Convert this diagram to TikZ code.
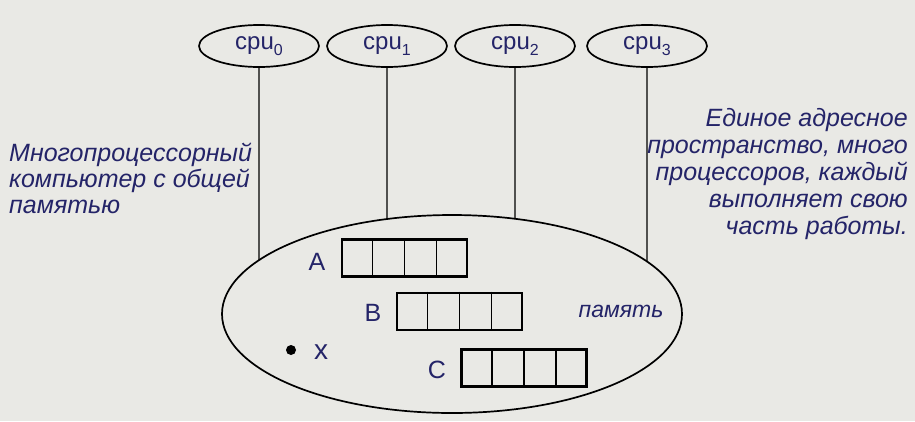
\documentclass[tikz,border=0pt]{standalone}
\usepackage{fontspec}
\setmainfont{Liberation Sans}
\usetikzlibrary{shapes.geometric,intersections,calc}
\definecolor{bg}{RGB}{233,233,229}
\definecolor{ink}{RGB}{36,36,104}
\newcommand{\cpusub}[1]{\raisebox{-6pt}{\fontsize{16}{16}\selectfont #1}}
\begin{document}
\begin{tikzpicture}[x=1pt,y=-1pt,
  cpu/.style={ellipse, draw, line width=1.7pt, minimum width=120pt, minimum height=42pt, inner sep=0pt, text=ink, font=\fontsize{24}{26}\selectfont},
  arr/.style={draw, line width=2.8pt, minimum width=125pt, minimum height=37pt, inner sep=0pt},
  cell/.style={line width=1.5pt},
  lbl/.style={text=ink, font=\fontsize{25}{26}\selectfont, inner sep=0pt},
  note/.style={text=ink, font=\fontsize{25}{26}\selectfont\itshape, inner sep=0pt},
  wire/.style={line width=1.4pt}]
\fill[bg] (0,0) rectangle (915,421);
\useasboundingbox (0,0) rectangle (915,421);
% CPUs
\node[cpu] (cpu0) at (259,46) {cpu\cpusub{0}};
\node[cpu] (cpu1) at (387,46) {cpu\cpusub{1}};
\node[cpu] (cpu2) at (515,46) {cpu\cpusub{2}};
\node[cpu] (cpu3) at (647,46) {cpu\cpusub{3}};
% memory
\node[ellipse, draw, line width=1.7pt, minimum width=460pt, minimum height=198pt, inner sep=0pt, name path=mem] (mem) at (452,314) {};
\path[name path=va] (cpu0.south) -- ++(0,300);
\path[name path=vb] (cpu1.south) -- ++(0,300);
\path[name path=vc] (cpu2.south) -- ++(0,300);
\path[name path=vd] (cpu3.south) -- ++(0,300);
\path[name intersections={of=va and mem}] (intersection-1) coordinate (ea);
\path[name intersections={of=vb and mem}] (intersection-1) coordinate (eb);
\path[name intersections={of=vc and mem}] (intersection-1) coordinate (ec);
\path[name intersections={of=vd and mem}] (intersection-1) coordinate (ed);
\draw[wire] (cpu0.south) -- (ea);
\draw[wire] (cpu1.south) -- (eb);
\draw[wire] (cpu2.south) -- (ec);
\draw[wire] (cpu3.south) -- (ed);
% arrays
\node[arr] (A) at (404.5,258) {};
\node[arr] (B) at (459.5,311.5) {};
\node[arr] (C) at (524,368) {};
\foreach \n in {A,B,C}{
  \foreach \f in {0.25,0.5,0.75}{
    \draw[cell] ($(\n.north west)!\f!(\n.north east)$) -- ($(\n.south west)!\f!(\n.south east)$);
  }
}
\node[lbl] (la) at (317,262) {A};
\node[lbl] (lb) at (373,313) {B};
\node[lbl] (lc) at (437,370) {C};
\node[lbl, font=\fontsize{28}{28}\selectfont] (lx) at (321,352) {x};
\node[circle, fill=black, inner sep=0pt, minimum size=10pt] (dot) at (291,350) {};
\node[note, font=\fontsize{23}{26}\selectfont\itshape] (pam) at (621,311) {память};
% notes
\node[note, align=left, anchor=north west] (left) at (9,143) {Многопроцессорный\\компьютер с общей\\памятью};
\node[note, align=right, anchor=north east, font=\fontsize{25}{27}\selectfont\itshape] (right) at (908,108) {Единое адресное\\пространство, много\\процессоров, каждый\\выполняет свою\\часть работы.};
\end{tikzpicture}
\end{document}
